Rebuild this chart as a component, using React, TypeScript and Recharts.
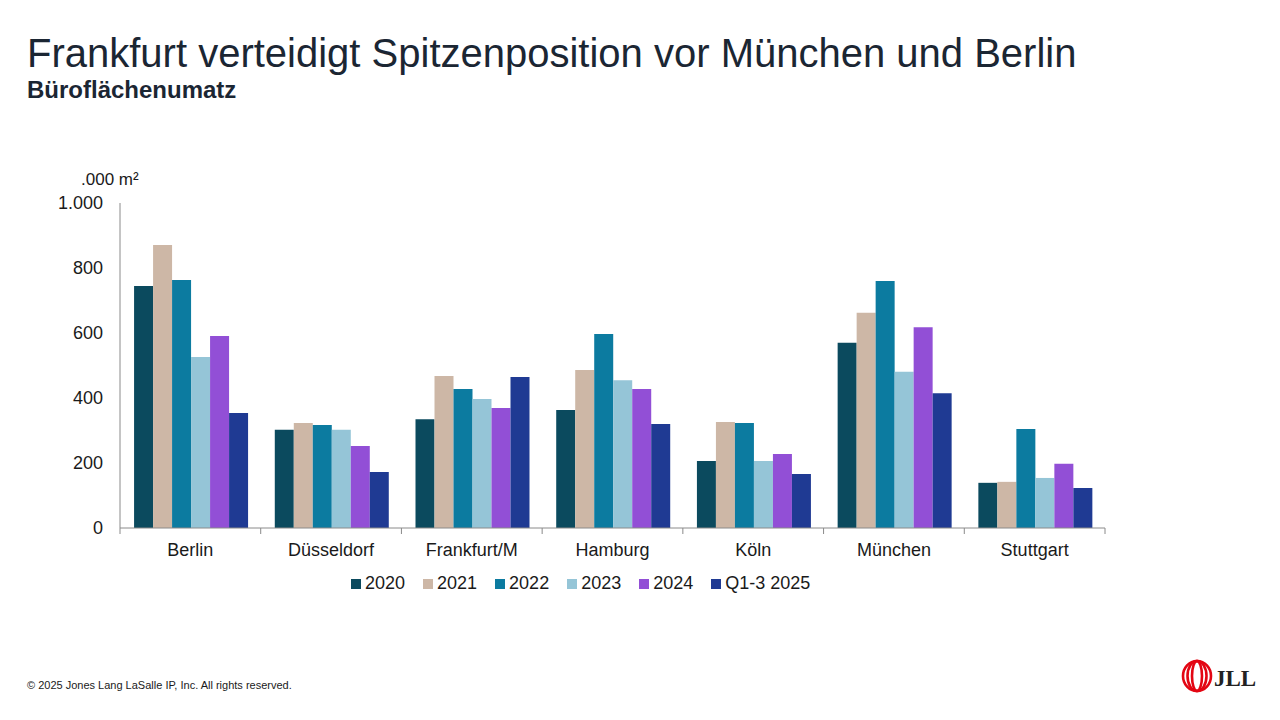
import { BarChart, Bar, XAxis, YAxis, Legend } from 'recharts'

// Büroflächenumsatz in .000 m²
const CITIES = ['Berlin', 'Düsseldorf', 'Frankfurt/M', 'Hamburg', 'Köln', 'München', 'Stuttgart']
const V2020 = [745, 302, 335, 363, 206, 570, 139]
const V2021 = [871, 323, 468, 486, 326, 662, 142]
const V2022 = [763, 317, 428, 597, 323, 760, 305]
const V2023 = [526, 302, 397, 455, 206, 481, 154]
const V2024 = [591, 252, 369, 428, 228, 618, 198]
const V2025 = [354, 172, 465, 320, 166, 415, 123]
const Y_TICKS = [0, 200, 400, 600, 800, 1000]

const SERIES = [
  { key: 's2020', name: '2020', values: V2020, color: '#0b4a5e' },
  { key: 's2021', name: '2021', values: V2021, color: '#cdb7a6' },
  { key: 's2022', name: '2022', values: V2022, color: '#0c7ba0' },
  { key: 's2023', name: '2023', values: V2023, color: '#95c5d7' },
  { key: 's2024', name: '2024', values: V2024, color: '#924fd6' },
  { key: 's2025', name: 'Q1-3 2025', values: V2025, color: '#1f3a93' },
]

const data = CITIES.map((city, i) => {
  const row: Record<string, string | number> = { city }
  SERIES.forEach((s) => {
    row[s.key] = s.values[i]
  })
  return row
})

const FONT = '"Liberation Sans", Arial, sans-serif'
const TEXT = '#1a1a1a'
const AXIS = '#8a8a8a'
const PLOT_LEFT = 120
const PLOT_RIGHT = 1105
const BAND = (PLOT_RIGHT - PLOT_LEFT) / CITIES.length

const fmt = (v: number) =>
  v >= 1000 ? `${Math.floor(v / 1000)}.${String(v % 1000).padStart(3, '0')}` : String(v)

function CityTick(props: any) {
  const { x, y, payload, index } = props
  const half = BAND / 2
  return (
    <g>
      <text x={x} y={y + 28} textAnchor="middle" fontSize={18} fill={TEXT} fontFamily={FONT}>
        {payload.value}
      </text>
      <line x1={x + half} x2={x + half} y1={y} y2={y + 6} stroke={AXIS} />
      {index === 0 && <line x1={x - half} x2={x - half} y1={y} y2={y + 6} stroke={AXIS} />}
    </g>
  )
}

function LegendRow(props: any) {
  const items = props.payload || []
  return (
    <div style={{ display: 'flex', fontFamily: FONT, fontSize: 18, color: TEXT, whiteSpace: 'nowrap' }}>
      {items.map((it: any) => (
        <span key={it.value} style={{ display: 'flex', alignItems: 'center', marginRight: 18 }}>
          <span style={{ width: 10, height: 10, background: it.color, marginRight: 4, display: 'inline-block' }} />
          {it.value}
        </span>
      ))}
    </div>
  )
}

function JllLogo() {
  return (
    <svg width={80} height={40} style={{ position: 'absolute', left: 1180, top: 657 }}>
      <g fill="none" stroke="#e30613" strokeWidth={2.6}>
        <ellipse cx={17} cy={19} rx={14} ry={15} />
        <ellipse cx={17} cy={19} rx={9.5} ry={15} />
        <ellipse cx={17} cy={19} rx={5} ry={15} />
      </g>
      <text x={34} y={29} fontSize={23} fontWeight={700} fill="#222" fontFamily='"Liberation Serif", "DejaVu Serif", serif'>
        JLL
      </text>
    </svg>
  )
}

export default function App() {
  return (
    <div style={{ position: 'absolute', left: 0, top: 0, width: 1280, height: 720, background: '#fff', fontFamily: FONT, overflow: 'hidden' }}>
      <div style={{ position: 'absolute', left: 27, top: 30, fontSize: 40, color: '#1b2633', whiteSpace: 'nowrap', lineHeight: '46px' }}>
        Frankfurt verteidigt Spitzenposition vor München und Berlin
      </div>
      <div style={{ position: 'absolute', left: 27, top: 76, fontSize: 24, fontWeight: 700, color: '#1b2633', whiteSpace: 'nowrap', lineHeight: '28px' }}>
        Büroflächenumatz
      </div>
      <div style={{ position: 'absolute', left: 81, top: 170, fontSize: 17, color: TEXT, whiteSpace: 'nowrap', lineHeight: '20px' }}>
        .000 m²
      </div>

      <div style={{ position: 'absolute', left: 0, top: 0 }}>
        <BarChart
          width={1280}
          height={720}
          data={data}
          margin={{ top: 203, right: 1280 - PLOT_RIGHT, bottom: 162, left: PLOT_LEFT - 80 }}
          barGap={0}
          barCategoryGap="10%"
        >
          <XAxis
            dataKey="city"
            height={30}
            axisLine={{ stroke: AXIS }}
            tickLine={false}
            tickSize={0}
            tickMargin={0}
            tick={<CityTick />}
            interval={0}
          />
          <YAxis
            width={80}
            domain={[0, 1000]}
            ticks={Y_TICKS}
            tickFormatter={fmt}
            axisLine={{ stroke: AXIS }}
            tickLine={false}
            tickMargin={11}
            tick={{ fontSize: 18, fill: TEXT, fontFamily: FONT }}
          />
          <Legend
            layout="horizontal"
            verticalAlign="middle"
            align="center"
            content={<LegendRow />}
            wrapperStyle={{ top: 573, left: 351, width: 'auto' }}
          />
          {SERIES.map((s) => (
            <Bar key={s.key} dataKey={s.key} name={s.name} fill={s.color} isAnimationActive={false} />
          ))}
        </BarChart>
      </div>

      <div style={{ position: 'absolute', left: 27, top: 679, fontSize: 11, color: TEXT, whiteSpace: 'nowrap', lineHeight: '13px' }}>
        © 2025 Jones Lang LaSalle IP, Inc. All rights reserved.
      </div>
      <JllLogo />
    </div>
  )
}
